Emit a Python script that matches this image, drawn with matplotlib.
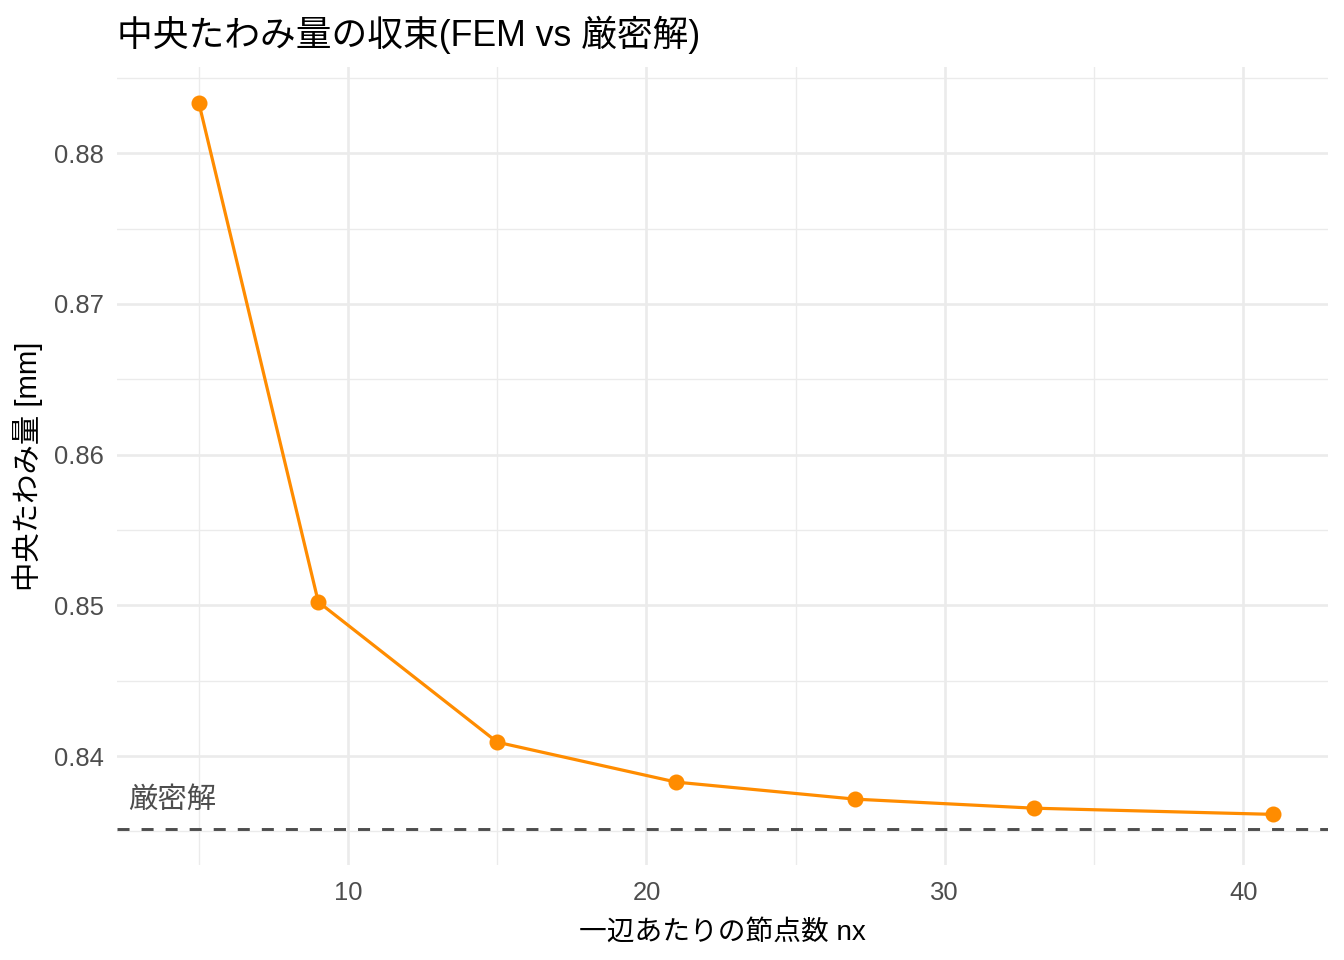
import numpy as np
import matplotlib
matplotlib.use("Agg")
import matplotlib.pyplot as plt
from matplotlib.ticker import MultipleLocator

plt.rcParams['font.family'] = ['Liberation Sans', 'Noto Sans CJK JP', 'DejaVu Sans']

# data
nx = [5, 9, 15, 21, 27, 33, 41]
w_fem = [0.88332, 0.85023, 0.84092, 0.83827, 0.83714, 0.83654, 0.83613]
w_exact = 0.83518
label_x = 4.1
label_y = w_exact + 0.0019

title = "中央たわみ量の収束(FEM vs 厳密解)"
xlabel = "一辺あたりの節点数 nx"
ylabel = "中央たわみ量 [mm]"
exact_label = "厳密解"

fig = plt.figure(figsize=(7, 5), dpi=192)
ax = fig.add_axes([0.0871, 0.0990, 0.9010, 0.8312])

grey30 = "#4D4D4D"
grid_c = "#EBEBEB"

ax.axhline(w_exact, color=grey30, lw=1.1, dashes=(4.1, 4.1), zorder=3)
ax.plot(nx, w_fem, color="#FF8C00", lw=1.2, zorder=4)
ax.plot(nx, w_fem, "o", color="#FF8C00", ms=5, zorder=5)
ax.text(label_x, label_y, exact_label, ha="center", va="center",
        fontsize=11, color=grey30)

# ggplot-like expansion (5%) including the label position
xlo, xhi = label_x, max(nx)
dx = (xhi - xlo) * 0.05
ax.set_xlim(xlo - dx, xhi + dx)
ylo, yhi = w_exact, max(w_fem)
dy = (yhi - ylo) * 0.05
ax.set_ylim(ylo - dy, yhi + dy)

ax.xaxis.set_major_locator(MultipleLocator(10))
ax.xaxis.set_minor_locator(MultipleLocator(5))
ax.yaxis.set_major_locator(MultipleLocator(0.01))
ax.yaxis.set_minor_locator(MultipleLocator(0.005))
ax.yaxis.set_major_formatter(plt.FuncFormatter(lambda v, p: f"{v:.2f}"))

ax.grid(which="major", color=grid_c, lw=1.0)
ax.grid(which="minor", color=grid_c, lw=0.5)
ax.set_axisbelow(True)
for s in ax.spines.values():
    s.set_visible(False)
ax.tick_params(which="both", length=0)
ax.tick_params(axis="x", pad=6, labelsize=9.6, labelcolor=grey30)
ax.tick_params(axis="y", pad=5, labelsize=9.6, labelcolor=grey30)

ax.set_xlabel(xlabel, fontsize=10.4, labelpad=5.5)
ax.set_ylabel(ylabel, fontsize=11, labelpad=4)
ax.set_title(title, fontsize=13.4, loc="left", pad=8)

fig.savefig("out.png", dpi=192)
